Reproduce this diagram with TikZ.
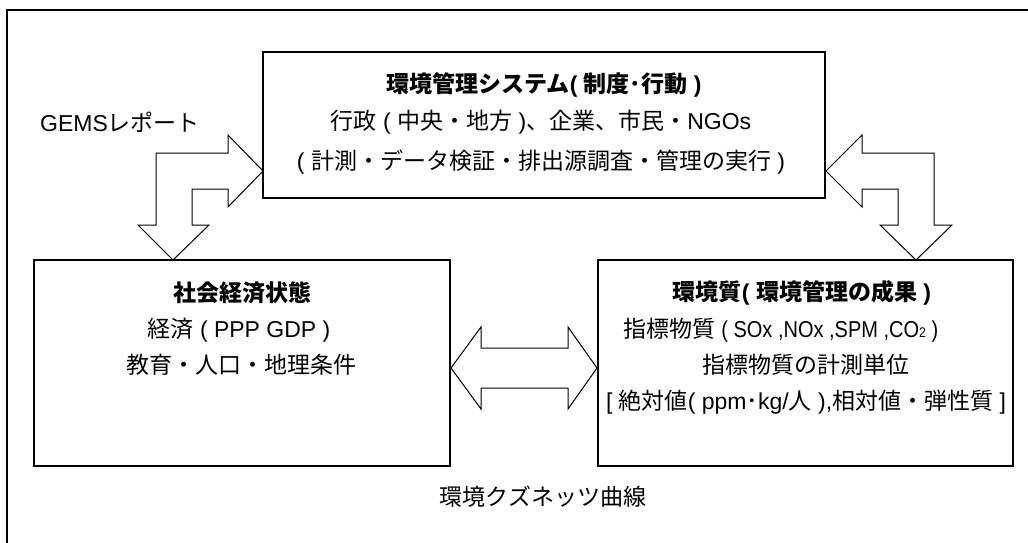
\documentclass[tikz,border=0pt]{standalone}
\usepackage{fontspec}
\setmainfont{Noto Sans CJK JP}
\newfontfamily\latf{Liberation Sans}
\newcommand\La[1]{{\latf #1}}
\begin{document}
\begin{tikzpicture}[x=1pt,y=-1pt,
  box/.style={draw, line width=1.1pt, fill=white, inner sep=0pt},
  blockarr/.style={draw, line width=1pt, fill=white, line join=miter},
  txt/.style={inner sep=0pt, font=\fontsize{23}{27}\selectfont},
  ttl/.style={inner sep=0pt, font=\fontsize{23}{27}\selectfont\bfseries}]
\useasboundingbox (0,0) rectangle (1028,543);
% outer frame (runs off the page on the right and bottom)
\draw[line width=1.6pt] (1028,10) -- (7,10) -- (7,543);
% boxes
\node[box, minimum width=562pt, minimum height=146pt] (sys) at (544,125) {};
\node[box, minimum width=416pt, minimum height=206pt] (soc) at (242,363) {};
\node[box, minimum width=415pt, minimum height=206pt] (env) at (805.5,363) {};
% block arrows
\path[blockarr] (263,171) -- (228,135) -- (228,153) -- (156,153) -- (156,225) -- (138,225)
  -- (173,260) -- (209,225) -- (192,225) -- (192,189) -- (228,189) -- (228,207) -- cycle;
\path[blockarr] (826,171) -- (862,135) -- (862,153) -- (934,153) -- (934,225) -- (952,225)
  -- (916,260) -- (880,225) -- (898,225) -- (898,189) -- (862,189) -- (862,207) -- cycle;
\path[blockarr] (451,368) -- (481,327) -- (481,348) -- (568,348) -- (568,327) -- (597,368)
  -- (568,409) -- (568,388) -- (481,388) -- (481,409) -- cycle;
% texts
\node[ttl] (sysT) at (544,85) {環境管理システム\La{( }制度･行動\La{ )}};
\node[txt] (sys1) at (541,122) {行政\La{ ( }中央・地方\La{ )}、企業、市民・\La{NGOs}};
\node[txt] (sys2) at (541,162) {\La{( }計測・データ検証・排出源調査・管理の実行\La{ )}};
\node[ttl] (socT) at (242,293) {社会経済状態};
\node[txt] (soc1) at (239,330) {経済\La{ ( PPP GDP )}};
\node[txt] (soc2) at (241,365) {教育・人口・地理条件};
\node[ttl] (envT) at (802,293) {環境質\La{( }環境管理の成果\La{ )}};
\node[txt] (env1) at (781,330) {指標物質\scalebox{0.87}[1]{\La{ ( SOx ,NOx ,SPM ,CO{\fontsize{14}{16}\selectfont 2} )}}};
\node[txt] (env2) at (806,365) {指標物質の計測単位};
\node[txt] (env3) at (806,402) {\La{[ }絶対値\La{( ppm}･\La{kg/}人\La{ ),}相対値・弾性質\La{ ]}};
\node[txt] (gems) at (120,122) {\La{GEMS}レポート};
\node[txt] (cap) at (543,497) {環境クズネッツ曲線};
\end{tikzpicture}
\end{document}
